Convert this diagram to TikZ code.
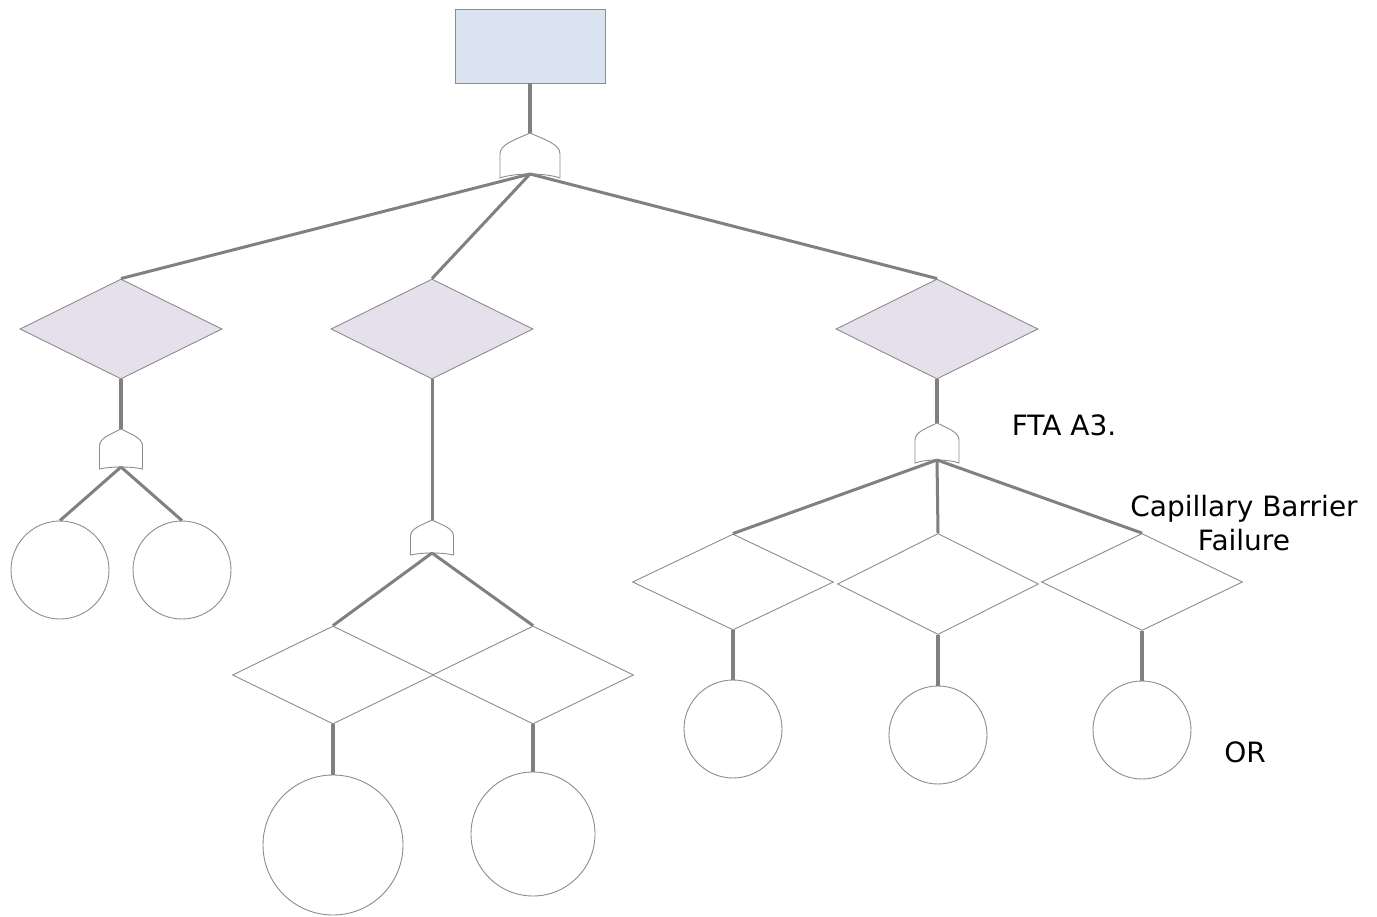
\documentclass[tikz,border=0pt]{standalone}
\usepackage{fontspec}
\setmainfont{DejaVu Sans}
\usetikzlibrary{shapes.geometric}
\definecolor{edgegray}{RGB}{140,140,140}
\definecolor{linkgray}{RGB}{128,128,128}
\definecolor{topblue}{RGB}{218,227,240}
\definecolor{lilac}{RGB}{229,224,236}
\tikzset{
  topbox/.style={draw=edgegray, fill=topblue, line width=0.9pt, minimum width=150, minimum height=74, inner sep=0},
  eventdiam/.style={diamond, draw=edgegray, fill=lilac, line width=0.9pt, aspect=2, minimum width=202, minimum height=100, inner sep=0},
  subdiam/.style={diamond, draw=edgegray, line width=0.9pt, aspect=2, minimum width=201, minimum height=#1, inner sep=0},
  basic/.style={circle, draw=edgegray, line width=0.9pt, minimum size=#1, inner sep=0},
  link/.style={draw=linkgray, line width=3pt},
  vlink/.style={draw=linkgray, line width=3.6pt},
  label/.style={font=\fontsize{28}{34}\selectfont, text=black, align=center, inner sep=0},
  pics/orgate/.style n args={5}{code={
    \draw[draw=edgegray, fill=white, line width=0.9pt]
      (0,0) .. controls (-0.55*#1,0.35*#2) and (-#1,0.55*#2) .. (-#1,#2)
      -- (-#1,#3) .. controls (-0.5*#1,#3-1.33*#4) and (0.5*#1,#3-1.33*#4) .. (#1,#3)
      -- (#1,#2) .. controls (#1,0.55*#2) and (0.55*#1,0.35*#2) .. (0,0) -- cycle;
    \coordinate (-top) at (0,0);
    \coordinate (-out) at (0,#3-#4);
  }}
}
\begin{document}
\begin{tikzpicture}[x=1pt, y=-1pt]
\useasboundingbox (0,0) rectangle (1377,917);

% top event
\node[topbox] (top) at (530,46) {};
\pic (g0) at (530,133) {orgate={30}{21}{45}{4}{}};

% level 1 diamonds
\node[eventdiam] (d1) at (121,329) {};
\node[eventdiam] (d2) at (432,329) {};
\node[eventdiam] (d3) at (937,329) {};

% gates
\pic (g1) at (121,429) {orgate={21.5}{17}{40}{2}{}};
\pic (g2) at (432,520) {orgate={21.5}{16}{35}{2}{}};
\pic (g3) at (937,423) {orgate={22}{17}{40}{3}{}};

% left branch circles
\node[basic=98] (c1) at (60,570) {};
\node[basic=98] (c2) at (182,570) {};

% middle branch
\node[subdiam=98] (m1) at (333,675) {};
\node[subdiam=98] (m2) at (533,675) {};
\node[basic=140] (c3) at (333,845) {};
\node[basic=124] (c4) at (533,834) {};

% right branch
\node[subdiam=96] (r1) at (733,582) {};
\node[subdiam=101] (r2) at (938,584) {};
\node[subdiam=97] (r3) at (1142,582) {};
\node[basic=98] (c5) at (733,729) {};
\node[basic=98] (c6) at (938,735) {};
\node[basic=98] (c7) at (1142,730) {};

% connectors
\path[vlink] (top.south) -- (g0-top);
\path[link] (g0-out) -- (d1.north);
\path[link] (g0-out) -- (d2.north);
\path[link] (g0-out) -- (d3.north);

\path[vlink] (d1.south) -- (g1-top);
\path[link] (g1-out) -- (c1.north);
\path[link] (g1-out) -- (c2.north);

\path[link] (d2.south) -- (g2-top);
\path[link] (g2-out) -- (m1.north);
\path[link] (g2-out) -- (m2.north);
\path[vlink] (m1.south) -- (c3.north);
\path[vlink] (m2.south) -- (c4.north);

\path[vlink] (d3.south) -- (g3-top);
\path[link] (g3-out) -- (r1.north);
\path[link] (g3-out) -- (r2.north);
\path[link] (g3-out) -- (r3.north);
\path[vlink] (r1.south) -- (c5.north);
\path[vlink] (r2.south) -- (c6.north);
\path[vlink] (r3.south) -- (c7.north);

% labels
\node[label] (fta) at (1064,425) {FTA A3.};
\node[label] (cbf) at (1244,523) {Capillary Barrier\\Failure};
\node[label] (orlbl) at (1245,752) {OR};
\end{tikzpicture}
\end{document}
